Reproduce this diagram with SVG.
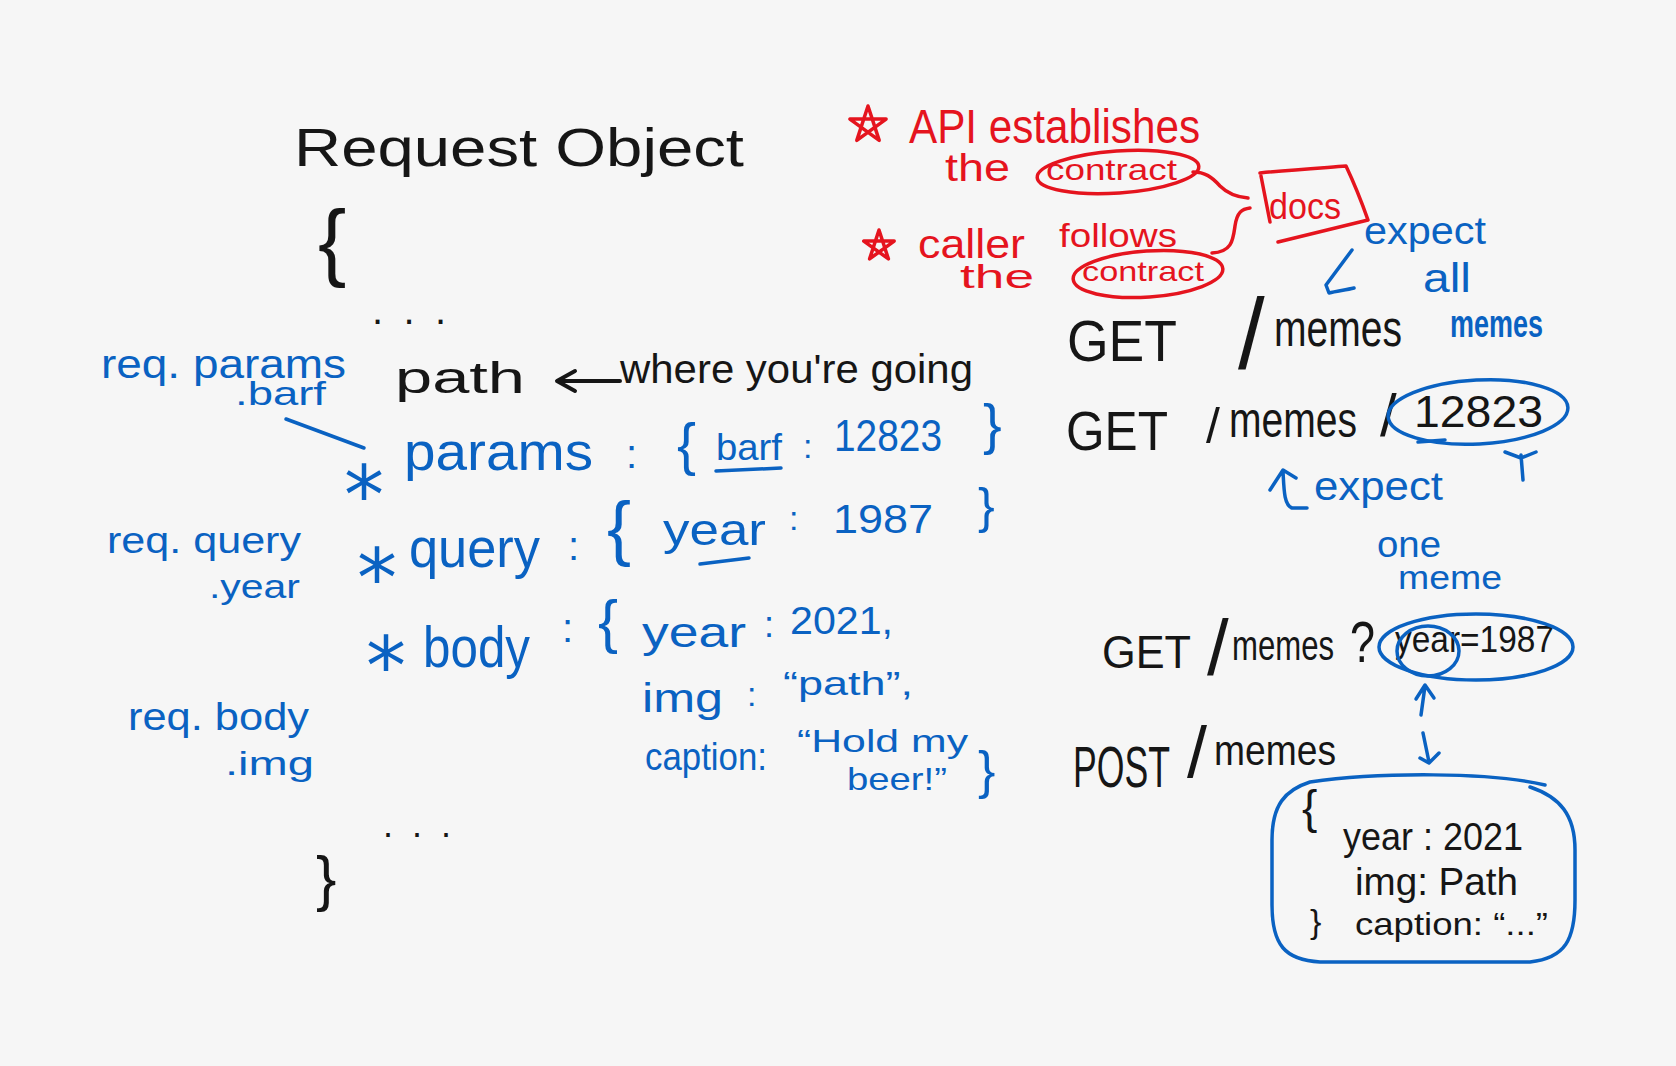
<svg xmlns="http://www.w3.org/2000/svg" width="1676" height="1066" viewBox="0 0 1676 1066">
<style>
text{font-family:"Liberation Sans",Arial,sans-serif}
.k{fill:#161616}.r{fill:#e5141e}.b{fill:#0a62c2}
.ast{font-family:"DejaVu Sans",sans-serif}
.sk{stroke:#161616;fill:none;stroke-width:4;stroke-linecap:round;stroke-linejoin:round}
.sr{stroke:#e5141e;fill:none;stroke-width:3.5;stroke-linecap:round;stroke-linejoin:round}
.sb{stroke:#0a62c2;fill:none;stroke-width:3.5;stroke-linecap:round;stroke-linejoin:round}
</style>
<rect width="1676" height="1066" fill="#f6f6f6"/>

<g id="request-object" class="k">
<text x="294" y="166" font-size="54" textLength="450" lengthAdjust="spacingAndGlyphs">Request Object</text>
<text x="318" y="270" font-size="85">{</text>
<text x="372" y="324" font-size="40" textLength="74" lengthAdjust="spacing">. . .</text>
<text x="395" y="393" font-size="44" textLength="130" lengthAdjust="spacingAndGlyphs">path</text>
<text x="620" y="383" font-size="40" textLength="353" lengthAdjust="spacingAndGlyphs">where you're going</text>
<text x="383" y="837" font-size="36" textLength="68" lengthAdjust="spacing">. . .</text>
<text x="316" y="899" font-size="61">}</text>
</g>

<g id="params-row" class="b">
<text class="ast" x="344" y="523" font-size="80">*</text>
<text x="404" y="470" font-size="54" textLength="189" lengthAdjust="spacingAndGlyphs">params</text>
<text x="626" y="468" font-size="40">:</text>
<text x="677" y="464" font-size="57">{</text>
<text x="716" y="460" font-size="36" textLength="66" lengthAdjust="spacingAndGlyphs">barf</text>
<text x="803" y="458" font-size="34">:</text>
<text x="834" y="451" font-size="44" textLength="108" lengthAdjust="spacingAndGlyphs">12823</text>
<text x="983" y="443" font-size="56">}</text>
</g>

<g id="query-row" class="b">
<text class="ast" x="357" y="606" font-size="80">*</text>
<text x="409" y="567" font-size="56" textLength="131" lengthAdjust="spacingAndGlyphs">query</text>
<text x="568" y="560" font-size="40">:</text>
<text x="607" y="552" font-size="72">{</text>
<text x="663" y="545" font-size="44" textLength="103" lengthAdjust="spacingAndGlyphs">year</text>
<text x="789" y="530" font-size="34">:</text>
<text x="833" y="533" font-size="40" textLength="100" lengthAdjust="spacingAndGlyphs">1987</text>
<text x="978" y="523" font-size="50">}</text>
</g>

<g id="body-row" class="b">
<text class="ast" x="366" y="694" font-size="80">*</text>
<text x="423" y="667" font-size="58" textLength="107" lengthAdjust="spacingAndGlyphs">body</text>
<text x="562" y="642" font-size="40">:</text>
<text x="598" y="642" font-size="60">{</text>
<text x="642" y="647" font-size="42" textLength="104" lengthAdjust="spacingAndGlyphs">year</text>
<text x="764" y="637" font-size="36">:</text>
<text x="790" y="634" font-size="38" textLength="103" lengthAdjust="spacingAndGlyphs">2021,</text>
<text x="642" y="712" font-size="40" textLength="81" lengthAdjust="spacingAndGlyphs">img</text>
<text x="747" y="706" font-size="34">:</text>
<text x="783" y="695" font-size="34" textLength="130" lengthAdjust="spacingAndGlyphs">“path”,</text>
<text x="645" y="770" font-size="38" textLength="122" lengthAdjust="spacingAndGlyphs">caption:</text>
<text x="797" y="752" font-size="32" textLength="171" lengthAdjust="spacingAndGlyphs">“Hold my</text>
<text x="847" y="790" font-size="32" textLength="100" lengthAdjust="spacingAndGlyphs">beer!”</text>
<text x="978" y="788" font-size="52">}</text>
</g>

<g id="req-labels" class="b">
<text x="101" y="378" font-size="40" textLength="245" lengthAdjust="spacingAndGlyphs">req. params</text>
<text x="235" y="405" font-size="34" textLength="91" lengthAdjust="spacingAndGlyphs">.barf</text>
<text x="107" y="553" font-size="36" textLength="194" lengthAdjust="spacingAndGlyphs">req. query</text>
<text x="209" y="598" font-size="34" textLength="91" lengthAdjust="spacingAndGlyphs">.year</text>
<text x="128" y="730" font-size="38" textLength="181" lengthAdjust="spacingAndGlyphs">req. body</text>
<text x="225" y="775" font-size="34" textLength="89" lengthAdjust="spacingAndGlyphs">.img</text>
</g>

<g id="contract-notes" class="r">
<polygon class="sr" stroke-width="4" points="868,106 879.2,140.4 849.9,119.1 886.1,119.1 856.8,140.4"/>
<text x="909" y="143" font-size="48" textLength="291" lengthAdjust="spacingAndGlyphs">API establishes</text>
<text x="945" y="181" font-size="38" textLength="65" lengthAdjust="spacingAndGlyphs">the</text>
<text x="1046" y="180" font-size="30" textLength="131" lengthAdjust="spacingAndGlyphs">contract</text>
<ellipse class="sr" cx="1118" cy="172" rx="81" ry="21" transform="rotate(-4 1118 172)"/>
<polygon class="sr" stroke-width="4" points="879,230 888.4,258.9 863.8,241.1 894.2,241.1 869.6,258.9"/>
<text x="918" y="258" font-size="40" textLength="107" lengthAdjust="spacingAndGlyphs">caller</text>
<text x="1059" y="247" font-size="34" textLength="118" lengthAdjust="spacingAndGlyphs">follows</text>
<text x="960" y="288" font-size="34" textLength="74" lengthAdjust="spacingAndGlyphs">the</text>
<text x="1082" y="281" font-size="28" textLength="122" lengthAdjust="spacingAndGlyphs">contract</text>
<ellipse class="sr" cx="1148" cy="274" rx="75" ry="23" transform="rotate(-4 1148 274)"/>
</g>

<g id="docs" class="r">
<path class="sr" d="M1261,176 L1270,222"/>
<path class="sr" d="M1260,173 C1290,170 1320,168 1346,166 C1355,185 1362,203 1368,220 L1278,242"/>
<text x="1269" y="219" font-size="36" textLength="72" lengthAdjust="spacingAndGlyphs">docs</text>
</g>

<g id="expect-all" class="b">
<text x="1364" y="244" font-size="38" textLength="122" lengthAdjust="spacingAndGlyphs">expect</text>
<text x="1423" y="292" font-size="40" textLength="48" lengthAdjust="spacingAndGlyphs">all</text>
<text x="1450" y="337" font-size="38" font-weight="bold" textLength="93" lengthAdjust="spacingAndGlyphs">memes</text>
</g>

<g id="get-memes" class="k">
<text x="1067" y="361" font-size="58" textLength="110" lengthAdjust="spacingAndGlyphs">GET</text>
<text font-size="80" transform="translate(1238 369) scale(1.2 1.25)">/</text>
<text x="1274" y="346" font-size="52" textLength="128" lengthAdjust="spacingAndGlyphs">memes</text>
</g>

<g id="get-meme-id">
<text class="k" x="1066" y="450" font-size="56" textLength="102" lengthAdjust="spacingAndGlyphs">GET</text>
<text class="k" x="1206" y="443" font-size="50">/</text>
<text class="k" x="1229" y="437" font-size="50" textLength="128" lengthAdjust="spacingAndGlyphs">memes</text>
<text class="k" x="1380" y="436" font-size="60">/</text>
<text class="k" x="1414" y="427" font-size="44" textLength="129" lengthAdjust="spacingAndGlyphs">12823</text>
<path class="sb" d="M1418,442 L1445,440"/>
<ellipse class="sb" cx="1478" cy="412" rx="90" ry="32" transform="rotate(-3 1478 412)"/>
</g>

<g id="expect-one" class="b">
<text x="1314" y="500" font-size="40" textLength="129" lengthAdjust="spacingAndGlyphs">expect</text>
<text x="1377" y="557" font-size="36" textLength="64" lengthAdjust="spacingAndGlyphs">one</text>
<text x="1398" y="589" font-size="34" textLength="104" lengthAdjust="spacingAndGlyphs">meme</text>
</g>

<g id="get-query">
<text class="k" x="1102" y="668" font-size="46" textLength="89" lengthAdjust="spacingAndGlyphs">GET</text>
<text class="k" x="1207" y="675" font-size="78">/</text>
<text class="k" x="1232" y="660" font-size="42" textLength="102" lengthAdjust="spacingAndGlyphs">memes</text>
<text class="k" x="1350" y="662" font-size="58" textLength="25" lengthAdjust="spacingAndGlyphs">?</text>
<text class="k" x="1395" y="652" font-size="36" textLength="159" lengthAdjust="spacingAndGlyphs">year=1987</text>
<ellipse class="sb" cx="1476" cy="647" rx="97" ry="33"/>
<ellipse class="sb" cx="1428" cy="651" rx="31" ry="25"/>
</g>

<g id="post-memes" class="k">
<text x="1073" y="787" font-size="58" textLength="97" lengthAdjust="spacingAndGlyphs">POST</text>
<text x="1187" y="777" font-size="72">/</text>
<text x="1214" y="765" font-size="42" textLength="122" lengthAdjust="spacingAndGlyphs">memes</text>
</g>

<g id="post-body">
<path class="sb" d="M1545,785 C1490,772 1380,772 1310,782 C1285,790 1272,805 1272,840 L1272,905 C1272,945 1285,960 1320,962 L1530,962 C1565,958 1575,940 1575,900 L1575,850 C1575,815 1560,797 1530,787"/>
<text class="k" x="1302" y="823" font-size="46">{</text>
<text class="k" x="1343" y="850" font-size="38" textLength="180" lengthAdjust="spacingAndGlyphs">year : 2021</text>
<text class="k" x="1355" y="895" font-size="38" textLength="163" lengthAdjust="spacingAndGlyphs">img: Path</text>
<text class="k" x="1310" y="933" font-size="34">}</text>
<text class="k" x="1355" y="935" font-size="32" textLength="193" lengthAdjust="spacingAndGlyphs">caption: “...”</text>
</g>

<g id="connectors">
<path class="sk" d="M620,381 L560,381 M575,371 L557,381 L575,391"/>
<path class="sb" stroke-width="4.5" d="M286,419 L364,448"/>
<path class="sb" d="M716,471 L781,468"/>
<path class="sb" d="M700,564 L749,558"/>
<path class="sr" d="M1193,172 C1205,172 1212,177 1220,186 C1228,194 1236,197 1248,198"/>
<path class="sr" d="M1212,253 C1232,252 1233,240 1235,226 C1237,212 1242,209 1250,208"/>
<path class="sb" d="M1352,250 L1326,285 L1329,293 C1337,291 1346,290 1354,288"/>
<path class="sb" d="M1505,452 L1521,458 L1536,452 M1521,455 L1523,480"/>
<path class="sb" d="M1270,490 L1283,470 L1296,478 M1283,471 C1284,490 1284,505 1292,508 L1307,508"/>
<path class="sb" d="M1421,715 L1425,686 M1416,699 L1425,685 L1434,698"/>
<path class="sb" d="M1423,733 L1429,762 M1420,758 L1429,763 L1439,753"/>
</g>
</svg>
